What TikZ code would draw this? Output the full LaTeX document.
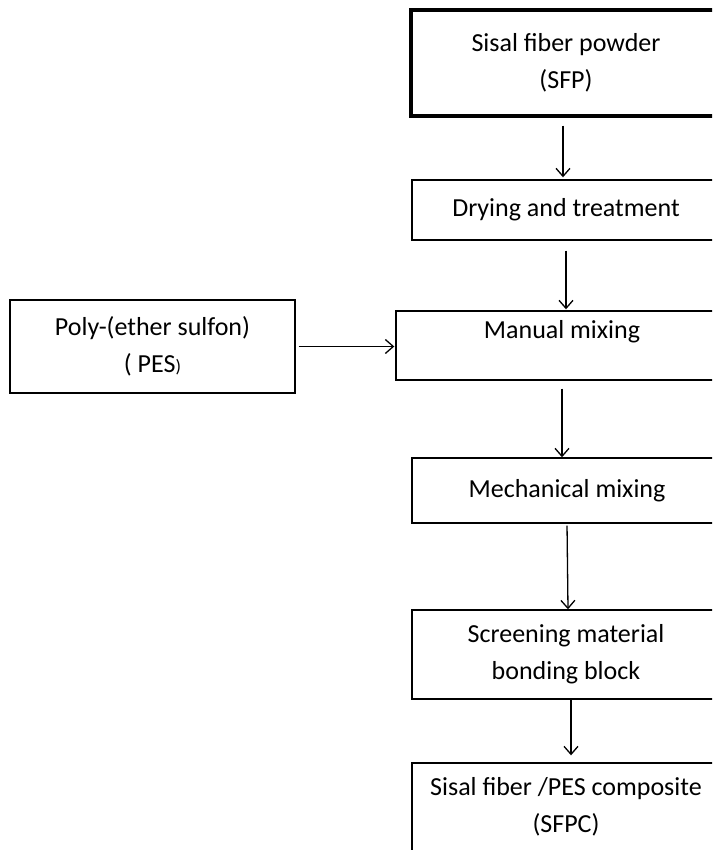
\documentclass[tikz,border=0pt]{standalone}
\usepackage{fontspec}
\setmainfont{Carlito}
\usetikzlibrary{calc, positioning}
\usetikzlibrary{arrows.meta}

\begin{document}
\begin{tikzpicture}[x=1pt,y=-1pt,font=\fontsize{26}{37}\selectfont,
    box/.style={draw,line width=1.4pt,align=center,inner sep=0pt},
    flow/.style={line width=1.3pt,-{Straight Barb[length=8pt,width=14pt]}}]
\useasboundingbox (0,0) rectangle (712,850);
\clip (0,0) rectangle (712,850);
\coordinate (PowderPosition) at (566,63);
\coordinate (DryingPosition) at (566,210);
\coordinate (ManualPosition) at (562,345.5);
\coordinate (PolymerPosition) at (152.5,346.5);
\coordinate (MechanicalPosition) at (567,490.5);
\coordinate (ScreeningPosition) at (566,654.5);
\coordinate (CompositePosition) at (566,807);

\node[box,line width=3.5pt,minimum width=310pt,minimum height=106pt]
    (Powder) at (PowderPosition) {Sisal fiber powder\\(SFP)};
\node[box,minimum width=308pt,minimum height=60pt]
    (Drying) at (DryingPosition) {Drying and treatment};
\node[box,minimum width=332pt,text height=27pt,text depth=42pt]
    (Manual) at (ManualPosition) {Manual mixing};
\node[box,minimum width=285pt,minimum height=93pt]
    (Polymer) at (PolymerPosition)
    {Poly-(ether sulfon)\\( PES{\fontsize{18}{37}\selectfont)}};
\node[box,minimum width=310pt,minimum height=65pt]
    (Mechanical) at (MechanicalPosition) {Mechanical mixing};
\node[box,minimum width=308pt,minimum height=89pt]
    (Screening) at (ScreeningPosition) {Screening material\\bonding block};
\node[box,minimum width=308pt,minimum height=88pt]
    (Composite) at (CompositePosition) {Sisal fiber /PES composite\\(SFPC)};

\draw[flow,shorten <=8pt,shorten >=2pt] ([xshift=-3pt]Powder.south)
    -- ([xshift=-3pt]Powder.south |- Drying.north);
\draw[flow,shorten <=10pt,shorten >=1pt] (Drying.south)
    -- (Drying.south |- Manual.north);
\draw[flow,shorten <=3pt,shorten >=1pt] (Polymer.east)
    -- (Polymer.east -| Manual.west);
\draw[flow,shorten <=8pt] (Manual.south) -- (Manual.south |- Mechanical.north);
\draw[flow,shorten <=2pt] (Mechanical.south) -- ([xshift=2pt]Screening.north);
\draw[flow,shorten >=7pt] ([xshift=5pt]Screening.south)
    -- ([xshift=5pt]Screening.south |- Composite.north);
\end{tikzpicture}
\end{document}
